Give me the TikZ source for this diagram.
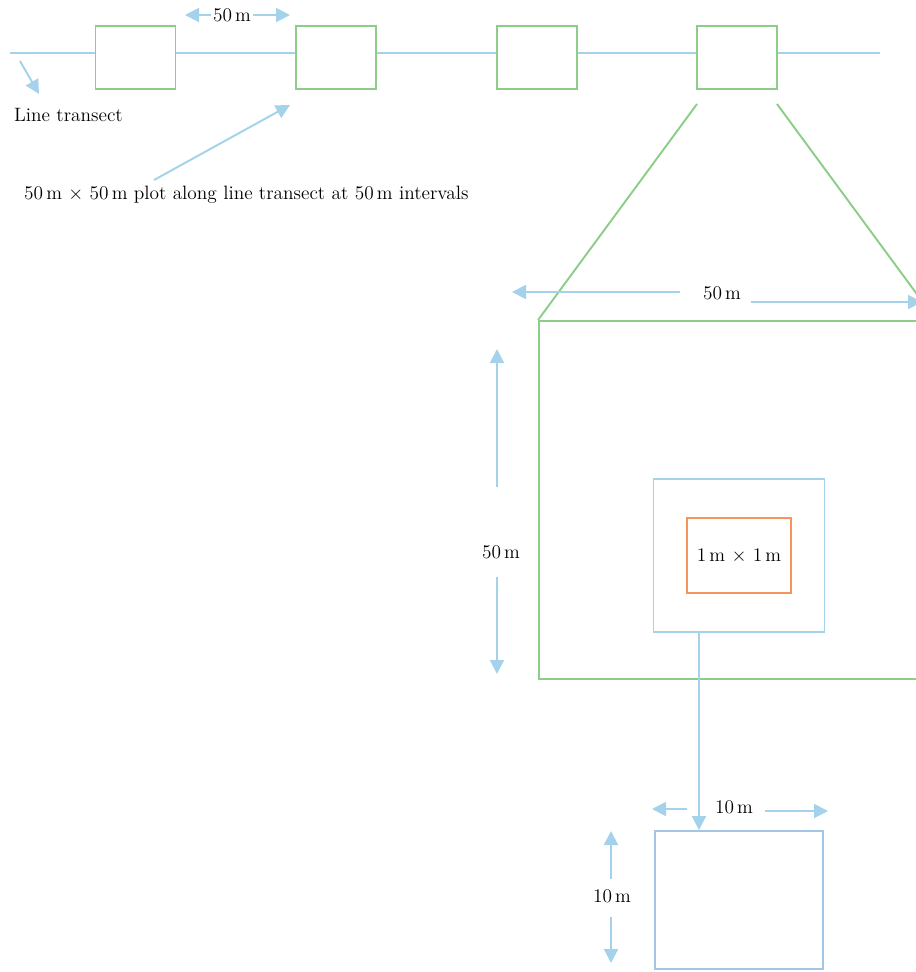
\documentclass[tikz,border=0pt]{standalone}
\usetikzlibrary{positioning}
\usetikzlibrary{arrows.meta}
\definecolor{transblue}{RGB}{163,210,234}
\definecolor{plotgreen}{RGB}{140,206,136}
\definecolor{quadorange}{RGB}{244,150,92}
\definecolor{subblue}{RGB}{164,198,230}
\tikzset{
  plotbox/.style={draw=plotgreen,fill=white,line width=1.1pt,inner sep=0pt,minimum width=16mm,minimum height=12.6mm},
  arr/.style={draw=transblue,line width=1.1pt,-{Triangle[length=2.8mm,width=2.8mm]}},
  lbl/.style={inner sep=1pt,font=\fontsize{11}{13}\selectfont}
}

\begin{document}
\begin{tikzpicture}[x=0.2mm,y=-0.2mm]
	\useasboundingbox (0,0) rectangle (916,972);
	\clip (0,0) rectangle (916,972);
	\coordinate (lstart) at (10,53);	\coordinate (lend) at (880,53);
	\draw[transblue,line width=1.1pt] (lstart) -- (lend);
	\node[plotbox] (p1) at (135.5,57.5) {};
	\node[plotbox] (p2) at (336,57.5) {};
	\node[plotbox] (p3) at (537,57.5) {};
	\node[plotbox] (p4) at (737,57.5) {};
	\node[lbl] (gap) at (232,15) {50\,m};
	\coordinate (gapl) at (185,15);	\coordinate (gapr) at (290,15);
	\draw[arr] (gap.west) -- (gapl);
	\draw[arr] (gap.east) -- (gapr);
	\node[lbl,anchor=west] (lt) at (12,115) {Line transect};
	\coordinate (ltfrom) at (20,61);	\coordinate (ltto) at (39,94);
	\draw[arr] (ltfrom) -- (ltto);
	\node[lbl,anchor=west] (plt) at (22,195) {50\,m $\times$ 50\,m plot along line transect at 50\,m intervals};
	\coordinate (pltfrom) at (154,180);	\coordinate (pltto) at (290,105);
	\draw[arr] (pltfrom) -- (pltto);
	\node[draw=plotgreen,line width=1.1pt,inner sep=0pt,minimum width=79.2mm,minimum height=71.6mm] (big) at (737,500) {};
	\coordinate (zl) at (697,104);	\coordinate (zr) at (777,104);
	\draw[plotgreen,line width=1.1pt] (zl) -- (big.north west);
	\draw[plotgreen,line width=1.1pt] (zr) -- (big.north east);
	\node[lbl] (bigw) at (722,293) {50\,m};
	\coordinate (bigwl) at (512,292);	\coordinate (bigwr) at (922,302);
	\draw[arr] (680,292) -- (bigwl);
	\draw[arr] (751,302) -- (bigwr);
	\node[lbl] (bigh) at (501,552) {50\,m};
	\coordinate (bighu) at (497,349);	\coordinate (bighd) at (497,674);
	\draw[arr] (497,487) -- (bighu);
	\draw[arr] (497,577) -- (bighd);
	\node[draw=transblue,line width=1.1pt,inner sep=0pt,minimum width=34.2mm,minimum height=30.6mm] (quad) at (739,555.5) {};
	\node[draw=quadorange,line width=1.1pt,lbl,minimum width=20.8mm,minimum height=15mm] (q1) at (739,555.5) {1\,m $\times$ 1\,m};
	\node[draw=subblue,line width=1.1pt,inner sep=0pt,minimum width=33.6mm,minimum height=27.6mm] (sub) at (739,900) {};
	\draw[arr] ([xshift=-8mm]quad.south) -- ([xshift=-8mm]sub.north);
	\node[lbl] (subw) at (734,807) {10\,m};
	\coordinate (subwl) at (652,809);	\coordinate (subwr) at (828,811);
	\draw[arr] (687,809) -- (subwl);
	\draw[arr] (765,811) -- (subwr);
	\node[lbl] (subh) at (612,896) {10\,m};
	\coordinate (subhu) at (611,831);	\coordinate (subhd) at (611,963);
	\draw[arr] (611,879) -- (subhu);
	\draw[arr] (611,917) -- (subhd);
\end{tikzpicture}
\end{document}
